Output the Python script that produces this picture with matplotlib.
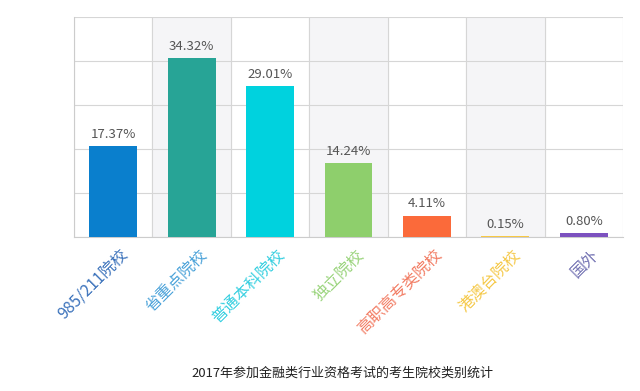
import matplotlib
matplotlib.use("Agg")
import matplotlib.pyplot as plt
import numpy as np

plt.rcParams['font.family'] = ['Noto Sans CJK SC', 'DejaVu Sans']

# data
categories = ['985/211院校', '省重点院校', '普通本科院校', '独立院校', '高职高专类院校', '港澳台院校', '国外']
values = [17.37, 34.32, 29.01, 14.24, 4.11, 0.15, 0.80]
bar_colors = ['#0a7fcd', '#27a496', '#00d2de', '#8ecf6c', '#fb6a3a', '#f7c844', '#7c51bf']
label_colors = ['#3b72bb', '#4aa2d9', '#36cfe0', '#9ad47c', '#f27c63', '#f5c94a', '#7473b3']
title = '2017年参加金融类行业资格考试的考生院校类别统计'

fig = plt.figure(figsize=(6.4, 3.91), dpi=100)
ax = fig.add_axes([0.1156, 0.3939, 0.8578, 0.5626])

x = np.arange(len(categories))
ymax = 42.2

# alternating column shading
for i in x:
    if i % 2 == 1:
        ax.axvspan(i - 0.5, i + 0.5, color='#f5f5f7', zorder=0)

ax.bar(x, values, width=0.61, color=bar_colors, zorder=3)

for xi, v in zip(x, values):
    ax.text(xi, v + 1.0, f'{v:.2f}%', ha='center', va='bottom',
            fontsize=9.5, color='#555555', zorder=4)

ax.set_xlim(-0.5, len(categories) - 0.5)
ax.set_ylim(0, ymax)
ax.set_yticks(np.linspace(0, ymax, 6))
ax.grid(axis='y', color='#d6d6d6', linewidth=0.8, zorder=1)
for i in range(len(categories) + 1):
    ax.axvline(i - 0.5, color='#d6d6d6', linewidth=0.8, zorder=1)

ax.set_yticklabels([])
ax.tick_params(axis='y', length=0)
ax.set_xticks(x)
ax.set_xticklabels([])
ax.tick_params(axis='x', length=0, which='both')
for s in ['top', 'right']:
    ax.spines[s].set_visible(False)
ax.spines['left'].set_color('#cccccc')
ax.spines['bottom'].set_color('#cccccc')

for xi, lab, c in zip(x, categories, label_colors):
    ax.annotate(lab, xy=(xi, 0), xycoords=('data', 'axes fraction'),
                xytext=(5, -7), textcoords='offset points',
                rotation=45, rotation_mode='anchor', ha='right', va='top',
                fontsize=11.5, color=c)

fig.text(0.535, 0.03, title, ha='center', va='bottom', fontsize=9.4, color='#222222')

fig.savefig('out.png', dpi=100)
